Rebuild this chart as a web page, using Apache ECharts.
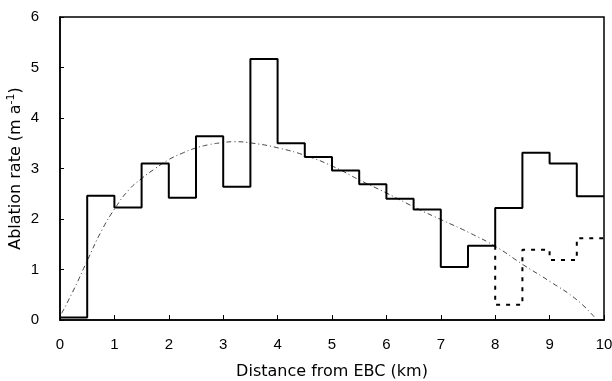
<!DOCTYPE html>
<html>
<head>
<meta charset="utf-8">
<script src="https://cdn.jsdelivr.net/npm/echarts@6/dist/echarts.min.js"></script>
<style>html,body{margin:0;padding:0;background:#fff}#c{width:612px;height:381px}</style>
</head>
<body>
<div id="c"></div>
<script>
// Bin start positions (km) and observed ablation rates (m a^-1), 0.5 km bins
var binStarts = [0, 0.5, 1, 1.5, 2, 2.5, 3, 3.5, 4, 4.5, 5, 5.5, 6, 6.5, 7, 7.5, 8, 8.5, 9, 9.5];
var ablation = [0.05, 2.46, 2.23, 3.10, 2.42, 3.64, 2.64, 5.17, 3.50, 3.23, 2.96, 2.69, 2.40, 2.19, 1.05, 1.47, 2.22, 3.31, 3.10, 2.45];
var binEnd = 10;
// Alternative (dotted) values for the last bins
var altStarts = [8, 8.5, 9, 9.5];
var altValues = [0.30, 1.39, 1.19, 1.62];
// Fitted curve (dash-dot)
var curveX = [0.03, 0.28, 0.49, 0.77, 1.01, 1.26, 1.51, 1.75, 1.99, 2.24, 2.48, 2.73, 2.97, 3.2, 3.55, 4.04, 4.53, 5.02, 5.51, 6.01, 6.56, 7.02, 7.54, 8.03, 8.52, 9.01, 9.50, 9.83];
var curveY = [0.13, 0.66, 1.15, 1.78, 2.21, 2.57, 2.81, 3.00, 3.17, 3.30, 3.40, 3.47, 3.51, 3.53, 3.50, 3.40, 3.25, 3.04, 2.77, 2.51, 2.21, 1.98, 1.72, 1.44, 1.09, 0.76, 0.40, 0.05];
var xTicks = [0,1,2,3,4,5,6,7,8,9,10];
var yTicks = [0,1,2,3,4,5,6];

var stepData = binStarts.map(function(x, i){ return [x, ablation[i]]; });
stepData.push([binEnd, ablation[ablation.length - 1]]);
var altData = [[altStarts[0], ablation[binStarts.indexOf(altStarts[0]) - 1]]];
altStarts.forEach(function(x, i){ altData.push([x, altValues[i]]); });
altData.push([binEnd, altValues[altValues.length - 1]]);
var curveData = curveX.map(function(x, i){ return [x, curveY[i]]; });

var nameFont = 'DejaVu Sans';
var tickFont = 'Liberation Sans';
var chart = echarts.init(document.getElementById('c'), null, {renderer: 'canvas'});
chart.setOption({
  animation: false,
  backgroundColor: '#fff',
  grid: {left: 60, right: 8, top: 17, bottom: 61, show: true, borderColor: '#000', borderWidth: 1.5,
         containLabel: false, outerBoundsMode: 'none'},
  xAxis: {
    type: 'value', min: xTicks[0], max: xTicks[xTicks.length-1], interval: 1,
    name: 'Distance from EBC (km)', nameLocation: 'middle', nameGap: 44,
    nameTextStyle: {fontFamily: nameFont, fontSize: 16, color: '#000'},
    axisLine: {show: true, lineStyle: {color: '#000', width: 1.5}},
    axisTick: {show: true, inside: true, length: 5, lineStyle: {color: '#000'}},
    axisLabel: {fontFamily: tickFont, fontSize: 15, color: '#000', margin: 17},
    splitLine: {show: false}
  },
  yAxis: {
    type: 'value', min: yTicks[0], max: yTicks[yTicks.length-1], interval: 1,
    name: 'Ablation rate (m a{sup|-1})', nameLocation: 'middle', nameGap: 34, nameRotate: 90,
    nameMoveOverlap: false,
    nameTextStyle: {fontFamily: nameFont, fontSize: 16, color: '#000', lineHeight: 20,
      rich: {sup: {fontFamily: nameFont, fontSize: 11, color: '#000', verticalAlign: 'top', lineHeight: 20}}},
    axisLine: {show: true, lineStyle: {color: '#000', width: 1.5}},
    axisTick: {show: true, inside: true, length: 4, lineStyle: {color: '#000'}},
    axisLabel: {fontFamily: tickFont, fontSize: 15, color: '#000', margin: 21},
    splitLine: {show: false}
  },
  series: [
    {type: 'line', data: curveData, smooth: true, symbol: 'none', z: 1,
     lineStyle: {color: '#444', width: 1, type: [5, 3, 1, 3]}},
    {type: 'line', data: stepData, step: 'end', symbol: 'none', z: 3,
     lineStyle: {color: '#000', width: 2}},
    {type: 'line', data: altData, step: 'end', symbol: 'none', z: 2,
     lineStyle: {color: '#000', width: 2, type: [4, 6]}}
  ]
});
</script>
</body>
</html>
